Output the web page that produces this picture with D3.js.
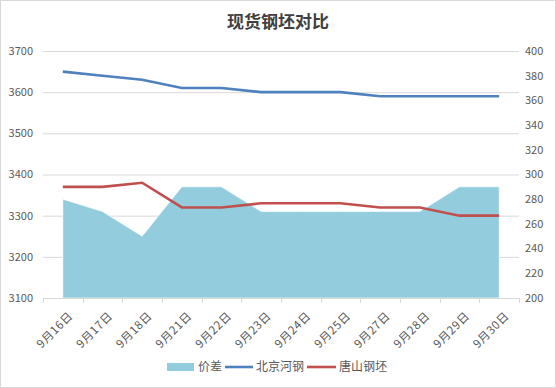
<!DOCTYPE html>
<html>
<head>
<meta charset='utf-8'>
<script src='https://cdn.jsdelivr.net/npm/d3@7'></script>
<style>
  body {margin:0; background:#fff;}
  text {font-family:'Noto Sans CJK SC','DejaVu Sans',sans-serif;}
</style>
</head>
<body>
<svg id='chart' width='556' height='388'></svg>
<script>
// data
var dates=['9月16日','9月17日','9月18日','9月21日','9月22日','9月23日',
           '9月24日','9月25日','9月27日','9月28日','9月29日','9月30日'];
var beijing=[3650,3640,3630,3610,3610,3600,3600,3600,3590,3590,3590,3590];
var tangshan=[3370,3370,3380,3320,3320,3330,3330,3330,3320,3320,3300,3300];
var spread=[280,270,250,290,290,270,270,270,270,270,290,290];
var leftTicks=[3100,3200,3300,3400,3500,3600,3700];
var rightTicks=[200,220,240,260,280,300,320,340,360,380,400];

var svg=d3.select('#chart');
var m={left:43,right:37,top:51,bottom:90},
    W=556, H=388,
    x0=m.left, x1=W-m.right, yT=m.top, yB=H-m.bottom;

svg.append('rect').attr('x',0.5).attr('y',0.5).attr('width',W-1).attr('height',H-1)
   .attr('fill','#fff').attr('stroke','#d9d9d9');

var x=d3.scaleBand().domain(dates).range([x0,x1]);
var cx=function(d){return x(d)+x.bandwidth()/2;};
var yL=d3.scaleLinear().domain([3100,3700]).range([yB,yT]);
var yR=d3.scaleLinear().domain([200,400]).range([yB,yT]);

// gridlines
svg.append('g').selectAll('line').data(leftTicks.slice(1)).enter().append('line')
   .attr('x1',x0).attr('x2',x1)
   .attr('y1',function(d){return yL(d)+0.5;}).attr('y2',function(d){return yL(d)+0.5;})
   .attr('stroke','#d9d9d9');

// area (right axis)
var area=d3.area().x(function(d,i){return cx(dates[i]);})
           .y0(yB).y1(function(d){return yR(d);});
svg.append('path').datum(spread).attr('d',area)
   .attr('fill','#93cddd').attr('stroke','#fff').attr('stroke-width',0.6);

// lines (left axis)
var line=d3.line().x(function(d,i){return cx(dates[i]);}).y(function(d){return yL(d);});
svg.append('path').datum(beijing).attr('d',line)
   .attr('fill','none').attr('stroke','#4f81bd').attr('stroke-width',2.6);
svg.append('path').datum(tangshan).attr('d',line)
   .attr('fill','none').attr('stroke','#c0504d').attr('stroke-width',2.6);

// bottom axis
svg.append('line').attr('x1',x0).attr('x2',x1).attr('y1',yB+0.5).attr('y2',yB+0.5)
   .attr('stroke','#d9d9d9');
svg.append('g').selectAll('line').data(dates.concat(['end'])).enter().append('line')
   .attr('x1',function(d,i){return Math.round(x0+i*x.bandwidth())+0.5;})
   .attr('x2',function(d,i){return Math.round(x0+i*x.bandwidth())+0.5;})
   .attr('y1',yB).attr('y2',yB+5).attr('stroke','#d9d9d9');
svg.append('g').selectAll('text').data(dates).enter().append('text')
   .attr('transform',function(d){return 'translate('+(cx(d)+5)+','+(yB+13)+') rotate(-45)';})
   .attr('text-anchor','end').attr('dy','0.7em').attr('letter-spacing',0.6)
   .attr('font-size',11.5).attr('fill','#595959').text(function(d){return d;});

// left and right tick labels
svg.append('g').selectAll('text').data(leftTicks).enter().append('text')
   .attr('x',33).attr('y',function(d){return yL(d);}).attr('dy','0.35em')
   .attr('text-anchor','end').attr('font-size',11).attr('fill','#595959')
   .text(function(d){return d;});
svg.append('g').selectAll('text').data(rightTicks).enter().append('text')
   .attr('x',525).attr('y',function(d){return yR(d);}).attr('dy','0.35em')
   .attr('font-size',11).attr('fill','#595959')
   .text(function(d){return d;});

// title
svg.append('text').attr('x',278).attr('y',28).attr('text-anchor','middle')
   .attr('font-size',17).attr('font-weight','bold').attr('fill','#404040')
   .text('现货钢坯对比');

// legend
var lg=svg.append('g').attr('font-size',12).attr('fill','#595959');
lg.append('rect').attr('x',167).attr('y',363).attr('width',27).attr('height',8).attr('fill','#93cddd');
lg.append('text').attr('x',198).attr('y',367).attr('dy','0.35em').text('价差');
lg.append('line').attr('x1',225).attr('x2',253).attr('y1',367).attr('y2',367)
  .attr('stroke','#4f81bd').attr('stroke-width',2.6);
lg.append('text').attr('x',256).attr('y',367).attr('dy','0.35em').text('北京河钢');
lg.append('line').attr('x1',307).attr('x2',336).attr('y1',367).attr('y2',367)
  .attr('stroke','#c0504d').attr('stroke-width',2.6);
lg.append('text').attr('x',339).attr('y',367).attr('dy','0.35em').text('唐山钢坯');
</script>
</body>
</html>
